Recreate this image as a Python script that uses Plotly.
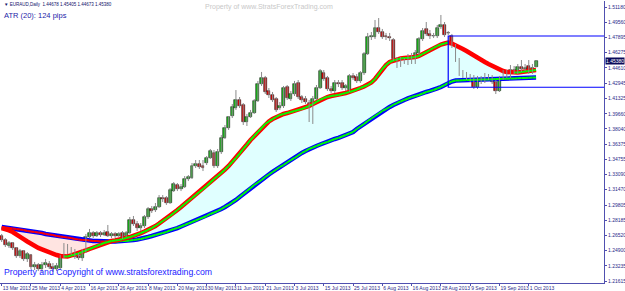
import numpy as np
import pandas as pd
import plotly.graph_objects as go

# ---------------- data (EURAUD, Daily) ----------------
open_ = [1.2647, 1.2604, 1.2539, 1.2571, 1.2518, 1.2431, 1.2485, 1.2399, 1.2442, 1.2313,
         1.2334, 1.2291, 1.2334, 1.2345, 1.2313, 1.2291, 1.2302, 1.2420, 1.2528, 1.2507,
         1.2474, 1.2431, 1.2410, 1.2485, 1.2636, 1.2679, 1.2647, 1.2679, 1.2658, 1.2690,
         1.2647, 1.2669, 1.2647, 1.2679, 1.2647, 1.2679, 1.2820, 1.2776, 1.2733, 1.2755,
         1.2852, 1.2938, 1.2928, 1.2960, 1.3057, 1.3057, 1.3003, 1.3132, 1.3197, 1.3154,
         1.3175, 1.3262, 1.3273, 1.3403, 1.3424, 1.3403, 1.3435, 1.3489, 1.3543, 1.3403,
         1.3553, 1.3705, 1.3812, 1.3942, 1.4028, 1.4115, 1.4061, 1.3877, 1.3931, 1.3974,
         1.4104, 1.4287, 1.4352, 1.4212, 1.4168, 1.4125, 1.4028, 1.4050, 1.4255, 1.4125,
         1.4179, 1.4298, 1.4147, 1.4125, 1.4082, 1.3931, 1.4125, 1.4244, 1.4406, 1.4352,
         1.4233, 1.4212, 1.4298, 1.4298, 1.4244, 1.4222, 1.4374, 1.4363, 1.4320, 1.4406,
         1.4611, 1.4794, 1.4794, 1.4891, 1.4848, 1.4805, 1.4794, 1.4762, 1.4557, 1.4492,
         1.4535, 1.4514, 1.4578, 1.4525, 1.4622, 1.4773, 1.4881, 1.4827, 1.4805, 1.4805,
         1.4902, 1.4924, 1.4838, 1.4805, 1.4697, 1.4546, 1.4395, 1.4384, 1.4363, 1.4352,
         1.4255, 1.4341, 1.4320, 1.4363, 1.4352, 1.4309, 1.4212, 1.4352, 1.4406, 1.4374,
         1.4438, 1.4417, 1.4471, 1.4449, 1.4481, 1.4417, 1.44678]
high = [1.2669, 1.2625, 1.2593, 1.2582, 1.2528, 1.2507, 1.2496, 1.2474, 1.2453, 1.2367,
        1.2356, 1.2367, 1.2399, 1.2377, 1.2356, 1.2356, 1.2442, 1.2571, 1.2561, 1.2528,
        1.2507, 1.2464, 1.2507, 1.2669, 1.2723, 1.2701, 1.2701, 1.2701, 1.2712, 1.2766,
        1.2690, 1.2690, 1.2690, 1.2701, 1.2701, 1.2852, 1.2863, 1.2809, 1.2787, 1.2874,
        1.2960, 1.2971, 1.3003, 1.3089, 1.3089, 1.3078, 1.3165, 1.3229, 1.3219, 1.3208,
        1.3294, 1.3305, 1.3435, 1.3467, 1.3467, 1.3467, 1.3510, 1.3586, 1.3575, 1.3586,
        1.3737, 1.3845, 1.3942, 1.4071, 1.4222, 1.4147, 1.4082, 1.3964, 1.4007, 1.4125,
        1.4320, 1.4417, 1.4374, 1.4244, 1.4201, 1.4147, 1.4093, 1.4266, 1.4276, 1.4212,
        1.4320, 1.4330, 1.4168, 1.4158, 1.4115, 1.4158, 1.4276, 1.4449, 1.4438, 1.4374,
        1.4266, 1.4330, 1.4330, 1.4330, 1.4287, 1.4395, 1.4406, 1.4395, 1.4427, 1.4632,
        1.4838, 1.4848, 1.4978, 1.4999, 1.4881, 1.4838, 1.4838, 1.4783, 1.4578, 1.4578,
        1.4568, 1.4611, 1.4622, 1.4654, 1.4794, 1.4891, 1.4956, 1.4870, 1.4838, 1.4924,
        1.5032, 1.4956, 1.4859, 1.4827, 1.4719, 1.4568, 1.4438, 1.4417, 1.4395, 1.4384,
        1.4374, 1.4374, 1.4406, 1.4395, 1.4384, 1.4330, 1.4374, 1.4438, 1.4438, 1.4492,
        1.4481, 1.4503, 1.4546, 1.4503, 1.4546, 1.4503, 1.45405]
low = [1.2582, 1.2528, 1.2518, 1.2496, 1.2410, 1.2410, 1.2377, 1.2367, 1.2291, 1.2280,
       1.2269, 1.2259, 1.2302, 1.2291, 1.2259, 1.2269, 1.2280, 1.2410, 1.2453, 1.2442,
       1.2399, 1.2388, 1.2377, 1.2464, 1.2625, 1.2625, 1.2636, 1.2636, 1.2647, 1.2636,
       1.2625, 1.2625, 1.2636, 1.2614, 1.2636, 1.2669, 1.2755, 1.2701, 1.2701, 1.2733,
       1.2831, 1.2895, 1.2906, 1.2949, 1.3014, 1.2982, 1.2993, 1.3122, 1.3132, 1.3132,
       1.3165, 1.3240, 1.3262, 1.3381, 1.3370, 1.3348, 1.3413, 1.3478, 1.3381, 1.3381,
       1.3532, 1.3694, 1.3791, 1.3920, 1.4007, 1.4028, 1.3845, 1.3834, 1.3920, 1.3964,
       1.4093, 1.4266, 1.4179, 1.4136, 1.4093, 1.3985, 1.4007, 1.4028, 1.4115, 1.4104,
       1.4158, 1.4125, 1.4082, 1.4071, 1.3877, 1.3856, 1.4115, 1.4233, 1.4320, 1.4212,
       1.4190, 1.4190, 1.4255, 1.4222, 1.4212, 1.4201, 1.4330, 1.4298, 1.4298, 1.4384,
       1.4600, 1.4762, 1.4773, 1.4827, 1.4773, 1.4762, 1.4751, 1.4535, 1.4460, 1.4471,
       1.4503, 1.4492, 1.4503, 1.4503, 1.4600, 1.4751, 1.4805, 1.4773, 1.4783, 1.4783,
       1.4881, 1.4794, 1.4816, 1.4676, 1.4525, 1.4374, 1.4352, 1.4330, 1.4309, 1.4233,
       1.4233, 1.4287, 1.4298, 1.4330, 1.4287, 1.4179, 1.4201, 1.4330, 1.4352, 1.4352,
       1.4395, 1.4395, 1.4417, 1.4427, 1.4395, 1.4395, 1.44673]
close = [1.2604, 1.2550, 1.2571, 1.2518, 1.2431, 1.2485, 1.2399, 1.2453, 1.2313, 1.2334,
         1.2291, 1.2334, 1.2356, 1.2313, 1.2291, 1.2323, 1.2420, 1.2528, 1.2496, 1.2474,
         1.2420, 1.2410, 1.2485, 1.2636, 1.2679, 1.2647, 1.2679, 1.2658, 1.2679, 1.2647,
         1.2669, 1.2647, 1.2669, 1.2636, 1.2679, 1.2820, 1.2776, 1.2733, 1.2755, 1.2852,
         1.2938, 1.2917, 1.2960, 1.3057, 1.3046, 1.3003, 1.3143, 1.3208, 1.3154, 1.3175,
         1.3262, 1.3284, 1.3403, 1.3424, 1.3392, 1.3381, 1.3489, 1.3564, 1.3403, 1.3553,
         1.3705, 1.3812, 1.3931, 1.4039, 1.4115, 1.4050, 1.3877, 1.3931, 1.3974, 1.4104,
         1.4287, 1.4352, 1.4201, 1.4168, 1.4115, 1.4007, 1.4050, 1.4244, 1.4136, 1.4179,
         1.4287, 1.4147, 1.4115, 1.4093, 1.3931, 1.4125, 1.4244, 1.4427, 1.4341, 1.4233,
         1.4212, 1.4298, 1.4287, 1.4244, 1.4266, 1.4374, 1.4352, 1.4320, 1.4406, 1.4611,
         1.4794, 1.4805, 1.4891, 1.4848, 1.4794, 1.4794, 1.4783, 1.4557, 1.4492, 1.4535,
         1.4525, 1.4578, 1.4525, 1.4622, 1.4773, 1.4859, 1.4827, 1.4805, 1.4803, 1.4891,
         1.4924, 1.4816, 1.4836, 1.4697, 1.4546, 1.4395, 1.4384, 1.4363, 1.4341, 1.4255,
         1.4341, 1.4320, 1.4374, 1.4352, 1.4309, 1.4212, 1.4352, 1.4406, 1.4384, 1.4438,
         1.4417, 1.4471, 1.4449, 1.4460, 1.4417, 1.4460, 1.45380]
ma_fast = [1.2733, 1.2723, 1.2707, 1.2690, 1.2669, 1.2642, 1.2614, 1.2588, 1.2561, 1.2539,
           1.2518, 1.2502, 1.2485, 1.2469, 1.2453, 1.2442, 1.2431, 1.2426, 1.2426, 1.2437,
           1.2448, 1.2458, 1.2474, 1.2491, 1.2507, 1.2523, 1.2539, 1.2555, 1.2571, 1.2582,
           1.2593, 1.2598, 1.2604, 1.2614, 1.2625, 1.2636, 1.2647, 1.2663, 1.2679, 1.2696,
           1.2712, 1.2733, 1.2755, 1.2782, 1.2809, 1.2836, 1.2863, 1.2895, 1.2928, 1.2960,
           1.2993, 1.3025, 1.3057, 1.3089, 1.3122, 1.3154, 1.3186, 1.3224, 1.3262, 1.3294,
           1.3327, 1.3365, 1.3403, 1.3446, 1.3489, 1.3537, 1.3586, 1.3634, 1.3683, 1.3726,
           1.3769, 1.3812, 1.3856, 1.3883, 1.3909, 1.3931, 1.3953, 1.3964, 1.3974, 1.3985,
           1.3996, 1.4007, 1.4017, 1.4034, 1.4050, 1.4071, 1.4093, 1.4115, 1.4136, 1.4147,
           1.4158, 1.4163, 1.4168, 1.4179, 1.4190, 1.4201, 1.4212, 1.4228, 1.4244, 1.4260,
           1.4276, 1.4303, 1.4341, 1.4395, 1.4449, 1.4492, 1.4525, 1.4541, 1.4552, 1.4562,
           1.4568, 1.4569, 1.4573, 1.4578, 1.4589, 1.4611, 1.4632, 1.4654, 1.4676, 1.4697,
           1.4713, 1.4724, 1.4735, 1.4724, 1.4708, 1.4686, 1.4665, 1.4643, 1.4622, 1.4595,
           1.4568, 1.4546, 1.4525, 1.4503, 1.4481, 1.4460, 1.4444, 1.4427, 1.4417, 1.4411,
           1.4410, 1.4411, 1.4417, 1.4422, 1.4427, 1.4433, 1.4438]
ma_slow = [1.2744, 1.2739, 1.2733, 1.2728, 1.2723, 1.2717, 1.2712, 1.2701, 1.2696, 1.2690,
           1.2685, 1.2679, 1.2669, 1.2663, 1.2658, 1.2647, 1.2642, 1.2636, 1.2631, 1.2625,
           1.2614, 1.2609, 1.2604, 1.2603, 1.2598, 1.2593, 1.2592, 1.2588, 1.2587, 1.2587,
           1.2587, 1.2588, 1.2589, 1.2593, 1.2594, 1.2598, 1.2604, 1.2609, 1.2614, 1.2625,
           1.2636, 1.2647, 1.2658, 1.2669, 1.2679, 1.2690, 1.2707, 1.2723, 1.2733, 1.2750,
           1.2766, 1.2782, 1.2798, 1.2814, 1.2831, 1.2847, 1.2863, 1.2885, 1.2901, 1.2917,
           1.2938, 1.2960, 1.2982, 1.3009, 1.3036, 1.3068, 1.3100, 1.3132, 1.3165, 1.3197,
           1.3224, 1.3251, 1.3284, 1.3311, 1.3338, 1.3365, 1.3392, 1.3413, 1.3440, 1.3467,
           1.3489, 1.3516, 1.3543, 1.3564, 1.3586, 1.3602, 1.3618, 1.3634, 1.3651, 1.3661,
           1.3678, 1.3694, 1.3705, 1.3721, 1.3737, 1.3753, 1.3769, 1.3802, 1.3829, 1.3856,
           1.3888, 1.3915, 1.3942, 1.3969, 1.3996, 1.4017, 1.4039, 1.4061, 1.4082, 1.4098,
           1.4115, 1.4131, 1.4147, 1.4158, 1.4168, 1.4185, 1.4201, 1.4212, 1.4222, 1.4239,
           1.4255, 1.4276, 1.4298, 1.4314, 1.4325, 1.4326, 1.4327, 1.4330, 1.4331, 1.4332,
           1.4333, 1.4335, 1.4336, 1.4337, 1.4338, 1.4341, 1.4342, 1.4343, 1.4344, 1.4346,
           1.4347, 1.4348, 1.4352, 1.4353, 1.4354, 1.4357, 1.4358]

x_tick_dates = ["2013-03-13", "2013-03-25", "2013-04-04", "2013-04-16", "2013-04-26",
                "2013-05-08", "2013-05-20", "2013-05-30", "2013-06-11", "2013-06-21",
                "2013-07-03", "2013-07-15", "2013-07-25", "2013-08-06", "2013-08-16",
                "2013-08-28", "2013-09-09", "2013-09-19", "2013-10-01"]
x_tick_labels = ["13 Mar 2013", "25 Mar 2013", "4 Apr 2013", "16 Apr 2013", "26 Apr 2013",
                 "8 May 2013", "20 May 2013", "30 May 2013", "11 Jun 2013", "21 Jun 2013",
                 "3 Jul 2013", "15 Jul 2013", "25 Jul 2013", "6 Aug 2013", "16 Aug 2013",
                 "28 Aug 2013", "9 Sep 2013", "19 Sep 2013", "1 Oct 2013"]
y_tick_labels = ["1.51180", "1.49560", "1.47895", "1.46275", "1.44610", "1.42945", "1.41325",
                 "1.39660", "1.38040", "1.36375", "1.34755", "1.33090", "1.31470", "1.29805",
                 "1.28185", "1.26520", "1.24900", "1.23235", "1.21615"]

# rectangle object drawn on the chart
rect_start = "2013-08-30"
rect_top = 1.4805
rect_bottom = 1.4252

header_text = "▼ EURAUD,Daily  1.44678 1.45405 1.44673 1.45380"
atr_text = "ATR (20): 124 pips"
watermark_top = "Property of www.StratsForexTrading.com"
watermark_bottom = "Property and Copyright of www.stratsforextrading.com"

# ---------------- figure ----------------
n = len(close)
dates = pd.bdate_range("2013-03-13", periods=n)
x = dates.strftime("%Y-%m-%d").tolist()

o = np.array(open_); c = np.array(close); h = np.array(high); l = np.array(low)
fast = np.array(ma_fast); slow = np.array(ma_slow)

fig = go.Figure()

# fill between the two averages
fig.add_trace(go.Scatter(x=x, y=slow, mode="lines", line=dict(width=0), hoverinfo="skip", showlegend=False))
fig.add_trace(go.Scatter(x=x, y=np.minimum(fast, slow), mode="lines", line=dict(width=0),
                         fill="tonexty", fillcolor="#ffe4e1", hoverinfo="skip", showlegend=False))
fig.add_trace(go.Scatter(x=x, y=slow, mode="lines", line=dict(width=0), hoverinfo="skip", showlegend=False))
fig.add_trace(go.Scatter(x=x, y=np.maximum(fast, slow), mode="lines", line=dict(width=0),
                         fill="tonexty", fillcolor="#e0ffff", hoverinfo="skip", showlegend=False))


def inner_segments(vals):
    up_x, up_y, dn_x, dn_y = [], [], [], []
    for i in range(len(vals) - 1):
        if vals[i + 1] >= vals[i]:
            up_x += [x[i], x[i + 1], x[i + 1]]; up_y += [vals[i], vals[i + 1], None]
        else:
            dn_x += [x[i], x[i + 1], x[i + 1]]; dn_y += [vals[i], vals[i + 1], None]
    return up_x, up_y, dn_x, dn_y


for vals, outer in ((slow, "#0000ff"), (fast, "#ff0000")):
    fig.add_trace(go.Scatter(x=x, y=vals, mode="lines", line=dict(color=outer, width=4.5),
                             hoverinfo="skip", showlegend=False))
    ux, uy, dx, dy = inner_segments(vals)
    fig.add_trace(go.Scatter(x=ux, y=uy, mode="lines", line=dict(color="#00ff00", width=2),
                             connectgaps=False, hoverinfo="skip", showlegend=False))
    fig.add_trace(go.Scatter(x=dx, y=dy, mode="lines", line=dict(color="#ff0000", width=2),
                             connectgaps=False, hoverinfo="skip", showlegend=False))

# wicks
wx, wy = [], []
for i in range(n):
    wx += [x[i], x[i], x[i]]; wy += [h[i], l[i], None]
fig.add_trace(go.Scatter(x=wx, y=wy, mode="lines", line=dict(color="#8a8a8a", width=1),
                         connectgaps=False, hoverinfo="skip", showlegend=False))

# bodies
base = np.minimum(o, c)
height = np.maximum(np.abs(c - o), 0.00025)
colors = ["#16b816" if c[i] >= o[i] else "#e00000" for i in range(n)]
fig.add_trace(go.Bar(x=x, y=height, base=base, width=0.8, marker=dict(color=colors,
                     line=dict(color="#202020", width=0.6)), showlegend=False, hoverinfo="skip"))

fig.add_shape(type="rect", xref="x", yref="y", x0=x.index(rect_start), x1=175,
              y0=rect_bottom, y1=rect_top, line=dict(color="#0000ff", width=1.2),
              fillcolor="rgba(0,0,0,0)", layer="above")

navy = "#2a2a8a"
fig.update_layout(
    width=625, height=291,
    margin=dict(l=0, r=21, t=1, b=8, autoexpand=False),
    paper_bgcolor="white", plot_bgcolor="white",
    bargap=0, barmode="overlay",
    font=dict(family="Liberation Sans, Arial, sans-serif"),
    xaxis=dict(type="category", range=[-0.46, 164.56], tickvals=x_tick_dates, ticktext=x_tick_labels,
               ticks="outside", ticklen=2, tickcolor="#5050b0", showline=True, linecolor="#5050b0",
               linewidth=1, showgrid=False, zeroline=False, tickfont=dict(size=5, color=navy),
               tickangle=0, ticklabelposition="outside right", automargin=False, fixedrange=True),
    yaxis=dict(side="right", range=[1.21399, 1.51827], tickvals=[float(t) for t in y_tick_labels],
               ticktext=y_tick_labels, ticks="outside", ticklen=2, tickcolor="#5050b0",
               showline=True, linecolor="#5050b0", linewidth=1, showgrid=False, zeroline=False,
               automargin=False, tickfont=dict(size=5, color=navy)),
    showlegend=False,
)

fig.add_annotation(xref="paper", yref="paper", x=0.003, y=0.986, xanchor="left", yanchor="middle",
                   text=header_text, showarrow=False, font=dict(size=4.5, color="#10106a"))
fig.add_annotation(xref="paper", yref="paper", x=0.004, y=0.947, xanchor="left", yanchor="middle",
                   text=atr_text, showarrow=False, font=dict(size=7.5, color="#1c1ca8"))
fig.add_annotation(xref="paper", yref="paper", x=0.445, y=0.978, xanchor="center", yanchor="middle",
                   text=watermark_top, showarrow=False, font=dict(size=7, color="#c8c8c8"))
fig.add_annotation(xref="paper", yref="paper", x=0.004, y=0.039, xanchor="left", yanchor="middle",
                   text=watermark_bottom, showarrow=False, font=dict(size=8.7, color="#1a1aff"))
fig.add_annotation(xref="paper", yref="y", x=1.0, y=close[-1], xanchor="left", yanchor="middle",
                   text=f"{close[-1]:.5f}", showarrow=False, bgcolor="#0a0a5a", borderpad=0,
                   font=dict(size=5, color="white"), xshift=1)

fig.write_html("out.html")
